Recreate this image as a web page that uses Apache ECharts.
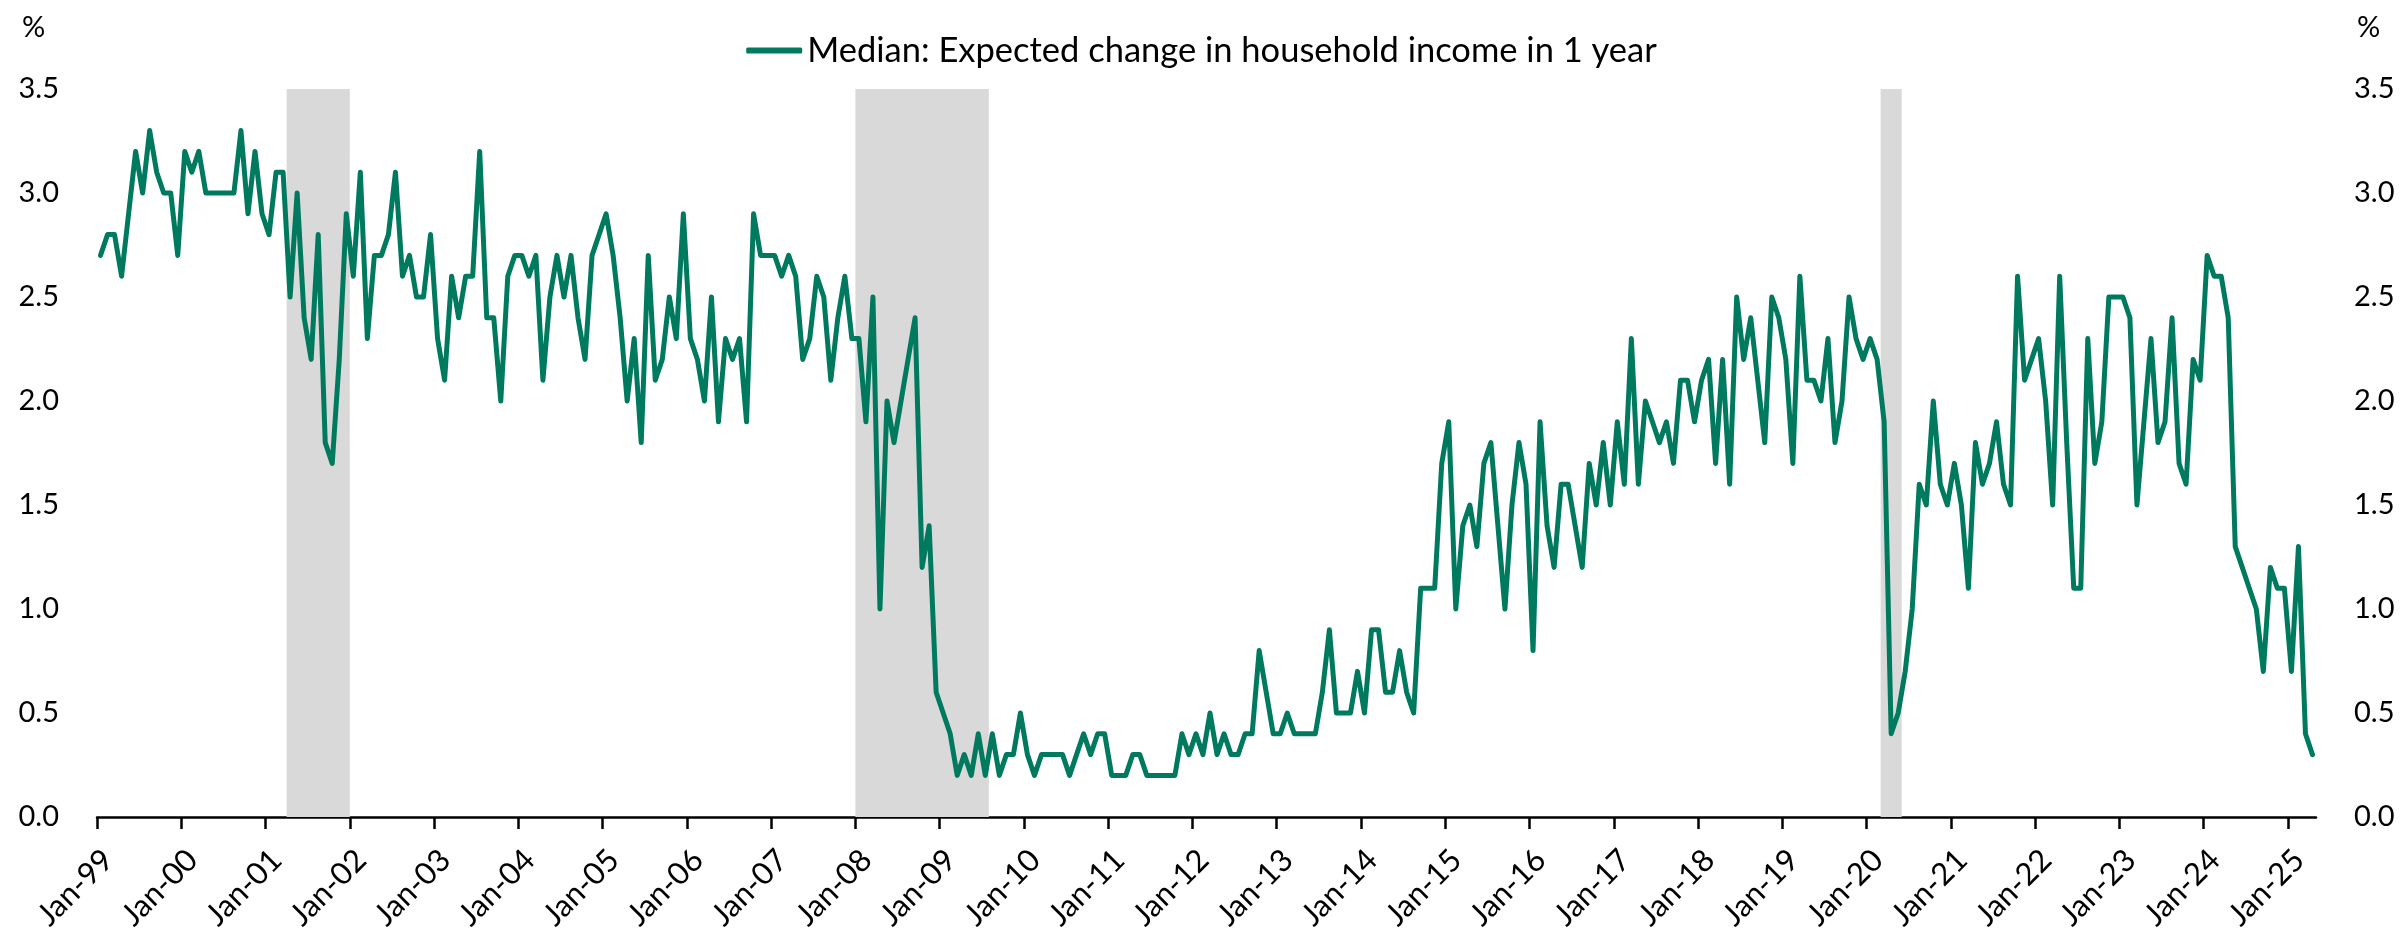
<!DOCTYPE html>
<html>
<head>
<meta charset="utf-8">
<title>Median: Expected change in household income in 1 year</title>
<script src="https://cdn.jsdelivr.net/npm/echarts@6/dist/echarts.min.js"></script>
<style>
  html, body { margin: 0; padding: 0; background: #fff; }
  #chart { width: 2403px; height: 942px; }
</style>
</head>
<body>
<div id="chart"></div>
<script>
// monthly, Jan-99 .. Apr-25
const firstYear = 1999;
const seriesName = 'Median: Expected change in household income in 1 year';

const tickLabels = [
  'Jan-99', 'Jan-00', 'Jan-01', 'Jan-02', 'Jan-03', 'Jan-04', 'Jan-05', 'Jan-06', 'Jan-07',
  'Jan-08', 'Jan-09', 'Jan-10', 'Jan-11', 'Jan-12', 'Jan-13', 'Jan-14', 'Jan-15', 'Jan-16',
  'Jan-17', 'Jan-18', 'Jan-19', 'Jan-20', 'Jan-21', 'Jan-22', 'Jan-23', 'Jan-24', 'Jan-25'
];

const incomeExp = [
  2.7, 2.8, 2.8, 2.6, 2.9, 3.2, 3.0, 3.3, 3.1, 3.0, 3.0, 2.7, // 1999
  3.2, 3.1, 3.2, 3.0, 3.0, 3.0, 3.0, 3.0, 3.3, 2.9, 3.2, 2.9, // 2000
  2.8, 3.1, 3.1, 2.5, 3.0, 2.4, 2.2, 2.8, 1.8, 1.7, 2.2, 2.9, // 2001
  2.6, 3.1, 2.3, 2.7, 2.7, 2.8, 3.1, 2.6, 2.7, 2.5, 2.5, 2.8, // 2002
  2.3, 2.1, 2.6, 2.4, 2.6, 2.6, 3.2, 2.4, 2.4, 2.0, 2.6, 2.7, // 2003
  2.7, 2.6, 2.7, 2.1, 2.5, 2.7, 2.5, 2.7, 2.4, 2.2, 2.7, 2.8, // 2004
  2.9, 2.7, 2.4, 2.0, 2.3, 1.8, 2.7, 2.1, 2.2, 2.5, 2.3, 2.9, // 2005
  2.3, 2.2, 2.0, 2.5, 1.9, 2.3, 2.2, 2.3, 1.9, 2.9, 2.7, 2.7, // 2006
  2.7, 2.6, 2.7, 2.6, 2.2, 2.3, 2.6, 2.5, 2.1, 2.4, 2.6, 2.3, // 2007
  2.3, 1.9, 2.5, 1.0, 2.0, 1.8, 2.0, 2.2, 2.4, 1.2, 1.4, 0.6, // 2008
  0.5, 0.4, 0.2, 0.3, 0.2, 0.4, 0.2, 0.4, 0.2, 0.3, 0.3, 0.5, // 2009
  0.3, 0.2, 0.3, 0.3, 0.3, 0.3, 0.2, 0.3, 0.4, 0.3, 0.4, 0.4, // 2010
  0.2, 0.2, 0.2, 0.3, 0.3, 0.2, 0.2, 0.2, 0.2, 0.2, 0.4, 0.3, // 2011
  0.4, 0.3, 0.5, 0.3, 0.4, 0.3, 0.3, 0.4, 0.4, 0.8, 0.6, 0.4, // 2012
  0.4, 0.5, 0.4, 0.4, 0.4, 0.4, 0.6, 0.9, 0.5, 0.5, 0.5, 0.7, // 2013
  0.5, 0.9, 0.9, 0.6, 0.6, 0.8, 0.6, 0.5, 1.1, 1.1, 1.1, 1.7, // 2014
  1.9, 1.0, 1.4, 1.5, 1.3, 1.7, 1.8, 1.4, 1.0, 1.5, 1.8, 1.6, // 2015
  0.8, 1.9, 1.4, 1.2, 1.6, 1.6, 1.4, 1.2, 1.7, 1.5, 1.8, 1.5, // 2016
  1.9, 1.6, 2.3, 1.6, 2.0, 1.9, 1.8, 1.9, 1.7, 2.1, 2.1, 1.9, // 2017
  2.1, 2.2, 1.7, 2.2, 1.6, 2.5, 2.2, 2.4, 2.1, 1.8, 2.5, 2.4, // 2018
  2.2, 1.7, 2.6, 2.1, 2.1, 2.0, 2.3, 1.8, 2.0, 2.5, 2.3, 2.2, // 2019
  2.3, 2.2, 1.9, 0.4, 0.5, 0.7, 1.0, 1.6, 1.5, 2.0, 1.6, 1.5, // 2020
  1.7, 1.5, 1.1, 1.8, 1.6, 1.7, 1.9, 1.6, 1.5, 2.6, 2.1, 2.2, // 2021
  2.3, 2.0, 1.5, 2.6, 1.8, 1.1, 1.1, 2.3, 1.7, 1.9, 2.5, 2.5, // 2022
  2.5, 2.4, 1.5, 1.9, 2.3, 1.8, 1.9, 2.4, 1.7, 1.6, 2.2, 2.1, // 2023
  2.7, 2.6, 2.6, 2.4, 1.3, 1.2, 1.1, 1.0, 0.7, 1.2, 1.1, 1.1, // 2024
  0.7, 1.3, 0.4, 0.3                                          // 2025
];

// shaded months (first, last)
const recessions = [
  ['2001-04', '2001-12'],
  ['2008-01', '2009-07'],
  ['2020-03', '2020-05']
];

function monthIndex(ym) {
  const [y, m] = ym.split('-').map(Number);
  return (y - firstYear) * 12 + (m - 1);
}

const lineData = incomeExp.map((v, i) => [i + 0.5, v]);
const tickValues = tickLabels.map((_, i) => i * 12);
// rotated labels sit a little right of their tick, as in the source chart
const labelShift = 1.6;
const labelValues = tickValues.map(v => v + labelShift);
const shadeAreas = recessions.map(([a, b]) => [
  { xAxis: monthIndex(a) },
  { xAxis: monthIndex(b) + 1 }
]);

const FONT = 'Lato';
const TEXT = '#000000';

const chart = echarts.init(document.getElementById('chart'));

const yAxisBase = {
  type: 'value',
  min: 0,
  max: 3.5,
  interval: 0.5,
  axisLine: { show: false },
  axisTick: { show: false },
  splitLine: { show: false },
  axisLabel: {
    margin: 38,
    color: TEXT,
    fontFamily: FONT,
    fontSize: 29,
    formatter: v => v.toFixed(1)
  }
};

chart.setOption({
  animation: false,
  backgroundColor: '#ffffff',
  textStyle: { fontFamily: FONT },
  grid: { left: 97, right: 87, top: 89, bottom: 125, containLabel: false },
  legend: {
    data: [seriesName],
    top: 33,
    left: 'center',
    padding: 0,
    icon: 'roundRect',
    itemWidth: 56,
    itemHeight: 6,
    itemGap: 4,
    textStyle: { color: TEXT, fontFamily: FONT, fontSize: 34.5 }
  },
  graphic: [
    { type: 'text', left: 22, top: 13, style: { text: '%', fill: TEXT, font: '29px ' + FONT } },
    { type: 'text', left: 2357, top: 13, style: { text: '%', fill: TEXT, font: '29px ' + FONT } }
  ],
  xAxis: {
    type: 'value',
    min: 0,
    max: incomeExp.length,
    splitLine: { show: false },
    axisLine: { show: true, lineStyle: { color: '#000', width: 2.5 } },
    axisTick: {
      show: true,
      customValues: tickValues,
      length: 12,
      lineStyle: { color: '#000', width: 2.5 }
    },
    axisLabel: {
      customValues: labelValues,
      rotate: 45,
      margin: 38,
      color: TEXT,
      fontFamily: FONT,
      fontSize: 31,
      formatter: v => tickLabels[Math.round((v - labelShift) / 12)]
    }
  },
  yAxis: [
    Object.assign({ position: 'left' }, yAxisBase),
    Object.assign({ position: 'right' }, yAxisBase)
  ],
  series: [
    {
      name: 'recession',
      type: 'line',
      data: [],
      z: 1,
      silent: true,
      markArea: {
        silent: true,
        itemStyle: { color: '#D9D9D9' },
        label: { show: false },
        data: shadeAreas
      }
    },
    {
      name: seriesName,
      type: 'line',
      data: lineData,
      z: 3,
      showSymbol: false,
      symbol: 'none',
      color: '#007A5E',
      lineStyle: { color: '#007A5E', width: 5, cap: 'round', join: 'round' }
    }
  ]
});
</script>
</body>
</html>
